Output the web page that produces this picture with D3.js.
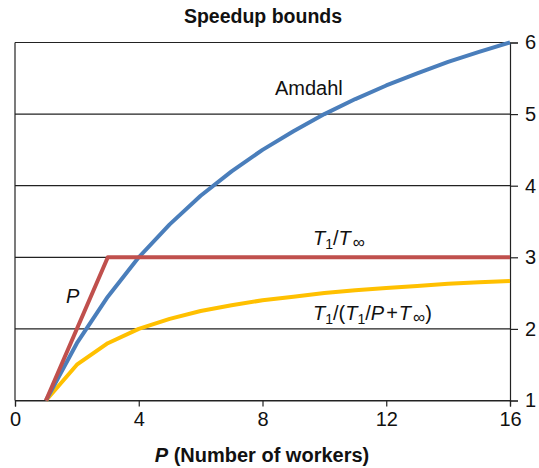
<!DOCTYPE html>
<html>
<head>
<meta charset="utf-8">
<script src="https://cdn.jsdelivr.net/npm/d3@7"></script>
<style>
body { margin: 0; background: #fff; }
text { font-family: "Liberation Sans", Arial, sans-serif; fill: #111; }
</style>
</head>
<body>
<svg id="chart" width="539" height="468"></svg>
<script>
// values
var workers = [1, 2, 3, 4, 5, 6, 7, 8, 9, 10, 11, 12, 13, 14, 15, 16];
var amdahl = [1, 1.8, 2.45, 3, 3.46, 3.86, 4.2, 4.5, 4.76, 5, 5.21, 5.4, 5.57, 5.73, 5.87, 6];
var greedy = [1, 1.5, 1.8, 2, 2.14, 2.25, 2.33, 2.4, 2.45, 2.5, 2.54, 2.57, 2.6, 2.63, 2.65, 2.67];
var spanP = [1, 3, 16];
var spanVal = [1, 3, 3];
var xTicks = [0, 4, 8, 12, 16];
var yTicks = [1, 2, 3, 4, 5, 6];

var svg = d3.select("#chart");
var x = d3.scaleLinear().domain([0, 16]).range([15, 510]);
var y = d3.scaleLinear().domain([1, 6]).range([400.5, 42.5]);

// gridlines
svg.append("g")
	.selectAll("line")
	.data(yTicks)
	.enter()
	.append("line")
	.attr("x1", x(0)).attr("x2", x(16))
	.attr("y1", function(d) { return y(d); })
	.attr("y2", function(d) { return y(d); })
	.attr("stroke", "#222")
	.attr("stroke-width", 1.2);

// left border
svg.append("line")
	.attr("x1", x(0)).attr("x2", x(0))
	.attr("y1", y(6)).attr("y2", y(1))
	.attr("stroke", "#222").attr("stroke-width", 1.2);

var xAxis = d3.axisBottom(x).tickValues(xTicks).tickSize(6).tickPadding(5);
var gx = svg.append("g").attr("transform", "translate(0," + y(1) + ")").call(xAxis);
var yAxis = d3.axisRight(y).tickValues(yTicks).tickFormat(d3.format("d")).tickSize(8).tickPadding(7);
var gy = svg.append("g").attr("transform", "translate(" + x(16) + ",0)").call(yAxis);

[gx, gy].forEach(function(g) {
	g.select(".domain").attr("stroke", "#222").attr("stroke-width", 1.2);
	g.selectAll(".tick line").attr("stroke", "#222").attr("stroke-width", 1.2);
	g.selectAll(".tick text")
		.style("font-family", "'Liberation Sans', Arial, sans-serif")
		.style("font-size", "20px")
		.attr("fill", "#111");
});

var line = d3.line()
	.x(function(d) { return x(d[0]); })
	.y(function(d) { return y(d[1]); });

function draw(xs, ys, color) {
	svg.append("path")
		.datum(d3.zip(xs, ys))
		.attr("d", line)
		.attr("fill", "none")
		.attr("stroke", color)
		.attr("stroke-width", 4)
		.attr("stroke-linejoin", "round");
}
draw(workers, greedy, "#FFC000");
draw(workers, amdahl, "#4A7EBB");
draw(spanP, spanVal, "#C0504D");

// title
svg.append("text")
	.attr("x", 263).attr("y", 23)
	.attr("text-anchor", "middle")
	.style("font-size", "19.5px").style("font-weight", "bold")
	.text("Speedup bounds");

// x label
var xl = svg.append("text")
	.attr("x", 262).attr("y", 462)
	.attr("text-anchor", "middle")
	.style("font-size", "20px").style("font-weight", "bold");
xl.append("tspan").style("font-style", "italic").text("P");
xl.append("tspan").text(" (Number of workers)");

// annotations
svg.append("text")
	.attr("x", 275).attr("y", 95)
	.style("font-size", "20px")
	.text("Amdahl");

svg.append("text")
	.attr("x", 66).attr("y", 303)
	.style("font-size", "20px").style("font-style", "italic")
	.text("P");

var t1 = svg.append("text")
	.attr("x", 313).attr("y", 245)
	.style("font-size", "20px").style("font-style", "italic");
t1.append("tspan").text("T");
t1.append("tspan").attr("dy", 4).style("font-size", "14px").style("font-style", "normal").text("1");
t1.append("tspan").attr("dy", -4).style("font-style", "normal").text("/");
t1.append("tspan").text("T");
t1.append("tspan").attr("dy", 3).attr("dx", 2).style("font-size", "17px").style("font-style", "normal").text("\u221E");

var t2 = svg.append("text")
	.attr("x", 313).attr("y", 320)
	.style("font-size", "20px").style("font-style", "italic");
t2.append("tspan").text("T");
t2.append("tspan").attr("dy", 4).style("font-size", "14px").style("font-style", "normal").text("1");
t2.append("tspan").attr("dy", -4).style("font-style", "normal").text("/(");
t2.append("tspan").text("T");
t2.append("tspan").attr("dy", 4).style("font-size", "14px").style("font-style", "normal").text("1");
t2.append("tspan").attr("dy", -4).style("font-style", "normal").text("/");
t2.append("tspan").text("P");
t2.append("tspan").attr("dx", 2).style("font-style", "normal").text("+");
t2.append("tspan").attr("dx", 1).text("T");
t2.append("tspan").attr("dy", 3).attr("dx", 2).style("font-size", "17px").style("font-style", "normal").text("\u221E");
t2.append("tspan").attr("dy", -3).style("font-style", "normal").text(")");
</script>
</body>
</html>
